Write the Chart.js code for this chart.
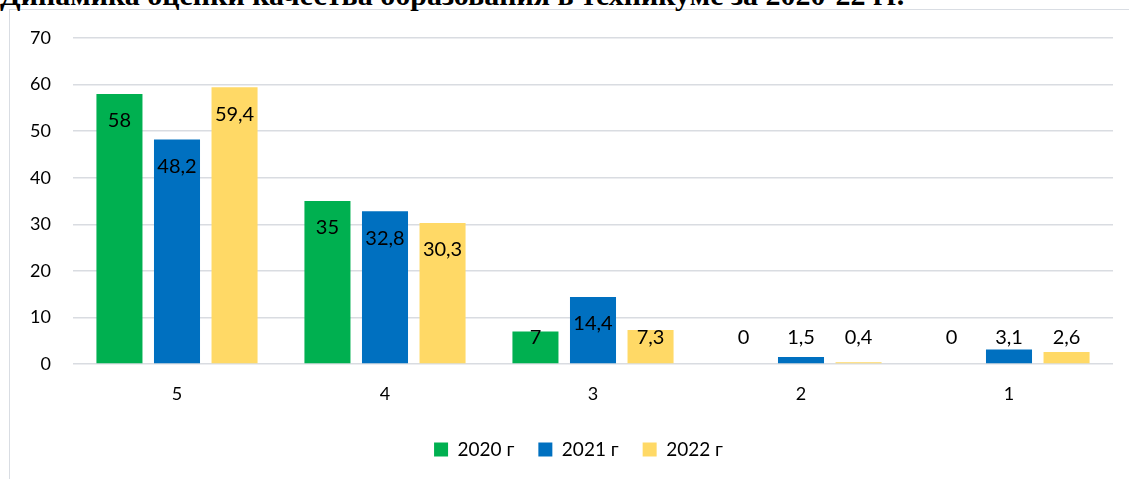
<!DOCTYPE html>
<html>
<head>
<meta charset="utf-8">
<script src="https://cdn.jsdelivr.net/npm/chart.js@4/dist/chart.umd.min.js"></script>
<style>
  html, body { margin: 0; padding: 0; background: #fff; width: 1129px; height: 479px; overflow: hidden; }
  #frame { position: absolute; left: 9px; top: 9px; width: 1200px; height: 600px; border: 1px solid #d9dde3; box-sizing: border-box; }
  #title { position: absolute; left: 0px; top: -20px; font: bold 30px "Liberation Serif", "Times New Roman", serif; line-height: 30px; white-space: nowrap; color: #000; }
  #c { position: absolute; left: 0; top: 0; }
</style>
</head>
<body>
<div id="frame"></div>
<div id="title">Динамика оценки качества образования в техникуме за 2020-22 гг.</div>
<canvas id="c" width="1129" height="479"></canvas>
<script>
const categories = ['5', '4', '3', '2', '1'];
const seriesNames = ['2020 г', '2021 г', '2022 г'];
const values2020 = [58, 35, 7, 0, 0];
const values2021 = [48.2, 32.8, 14.4, 1.5, 3.1];
const values2022 = [59.4, 30.3, 7.3, 0.4, 2.6];
const seriesColors = ['#00b050', '#0070c0', '#ffd966'];
const yMin = 0, yMax = 70, yStep = 10;

const FONT = 'Lato, "Open Sans", sans-serif';

const dataLabels = {
  id: 'dataLabels',
  afterDatasetsDraw(chart) {
    const ctx = chart.ctx;
    ctx.save();
    ctx.font = '20px ' + FONT;
    ctx.fillStyle = '#000';
    ctx.textAlign = 'center';
    ctx.textBaseline = 'middle';
    chart.data.datasets.forEach((ds, di) => {
      const meta = chart.getDatasetMeta(di);
      meta.data.forEach((el, i) => {
        const v = ds.data[i];
        const y = Math.min(el.y + 27, el.base - 26);
        ctx.fillText(String(v).replace('.', ','), el.x, y);
      });
    });
    ctx.restore();
  }
};

const legendShift = {
  id: 'legendShift',
  afterLayout(chart) {
    if (chart.legend) {
      chart.legend.left += 22;
      chart.legend.right += 22;
    }
  }
};

new Chart(document.getElementById('c'), {
  type: 'bar',
  data: {
    labels: categories,
    datasets: [
      { label: seriesNames[0], data: values2020, backgroundColor: seriesColors[0] },
      { label: seriesNames[1], data: values2021, backgroundColor: seriesColors[1] },
      { label: seriesNames[2], data: values2022, backgroundColor: seriesColors[2] }
    ]
  },
  options: {
    responsive: false,
    animation: false,
    devicePixelRatio: 1,
    categoryPercentage: 0.83,
    barPercentage: 0.8,
    layout: { padding: { top: 38, right: 16, bottom: 10, left: 0 } },
    plugins: {
      title: { display: false },
      tooltip: { enabled: false },
      legend: {
        position: 'bottom',
        labels: {
          font: { family: FONT, size: 19 },
          color: '#000',
          boxWidth: 14,
          boxHeight: 14,
          padding: 24
        }
      }
    },
    scales: {
      x: {
        grid: { display: false, drawTicks: false },
        border: { display: false },
        ticks: { font: { family: FONT, size: 18 }, color: '#000', padding: 19 },
        afterFit(s) { s.height = 52; }
      },
      y: {
        min: yMin, max: yMax,
        ticks: { stepSize: yStep, font: { family: FONT, size: 18 }, color: '#000', padding: 22 },
        grid: { color: '#d9dce1', lineWidth: 1.5, drawTicks: false },
        border: { display: false },
        afterFit(s) { s.width = 73; }
      }
    }
  },
  plugins: [dataLabels, legendShift]
});
</script>
</body>
</html>
